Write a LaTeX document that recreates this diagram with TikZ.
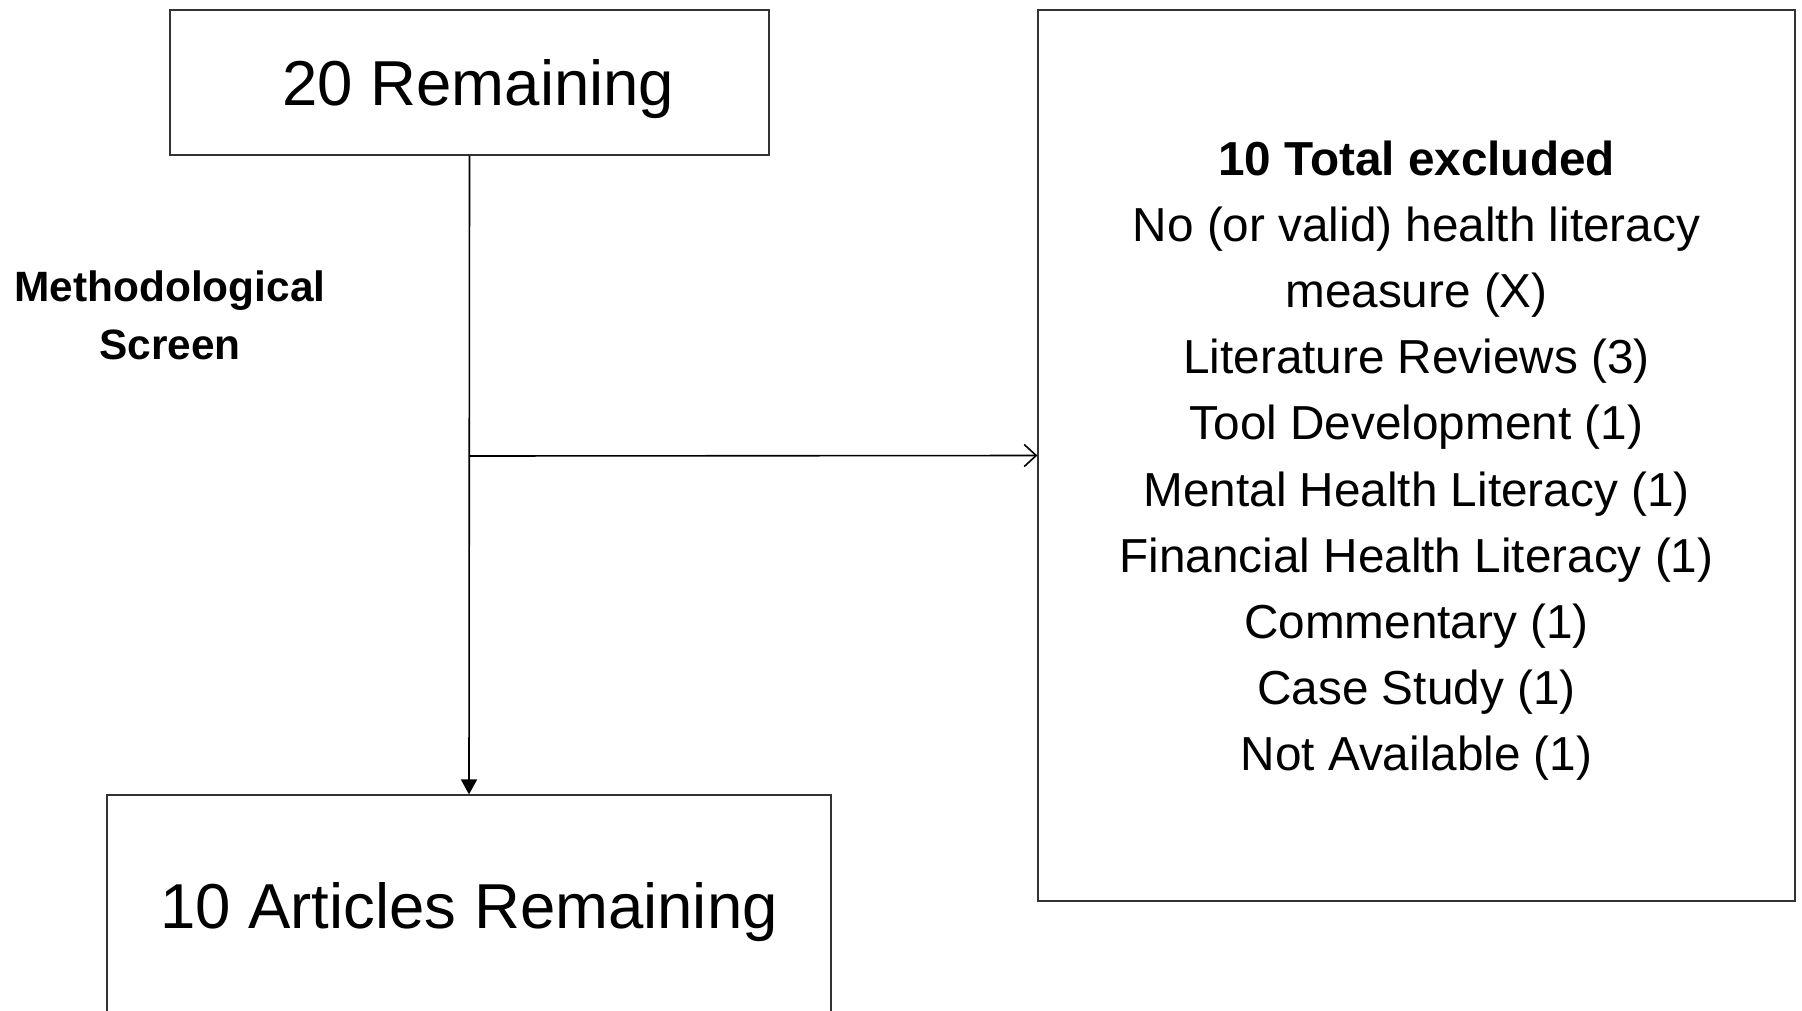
\documentclass[tikz,border=0pt]{standalone}
\usepackage{fontspec}
\setmainfont{Liberation Sans}
\usetikzlibrary{arrows.meta}
\tikzset{
	box/.style={draw=black!80,line width=1.2pt,inner sep=0pt},
	flow/.style={line width=1.6pt}
}
\begin{document}
\begin{tikzpicture}[x=1pt,y=-1pt]
		\useasboundingbox(0,0)rectangle(1802,1010);
		\node[box,minimum width=599pt,minimum height=145pt,text height=60pt,font=\fontsize{63.5}{70}\selectfont](rem20)at(469.5,82.5){\hspace*{18pt}20 Remaining};
		\node[box,minimum width=724pt,minimum height=224pt,text height=56pt,font=\fontsize{63.5}{70}\selectfont](art10)at(469,907){10 Articles Remaining};
		\node[box,minimum width=757pt,minimum height=891pt,align=center,font=\fontsize{47.7}{66.2}\selectfont](excl)at(1416.5,455.5){%
			\rule{0pt}{45pt}\textbf{10 Total excluded}\\
			No (or valid) health literacy\\
			measure (X)\\
			Literature Reviews (3)\\
			Tool Development (1)\\
			Mental Health Literacy (1)\\
			Financial Health Literacy (1)\\
			Commentary (1)\\
			Case Study (1)\\
			Not Available (1)};
		\node[align=center,font=\bfseries\fontsize{42.4}{58.6}\selectfont](screen)at(170,315.5){Methodological\\Screen};
		\coordinate(split)at(469,456);
		\draw[flow,-{Triangle[length=15pt,width=16pt]}](rem20.south)--(art10.north);
		\draw[flow,-{Straight Barb[length=12pt,width=22pt,line width=1.6pt]}](split)--(excl.west);
	\end{tikzpicture}
\end{document}
